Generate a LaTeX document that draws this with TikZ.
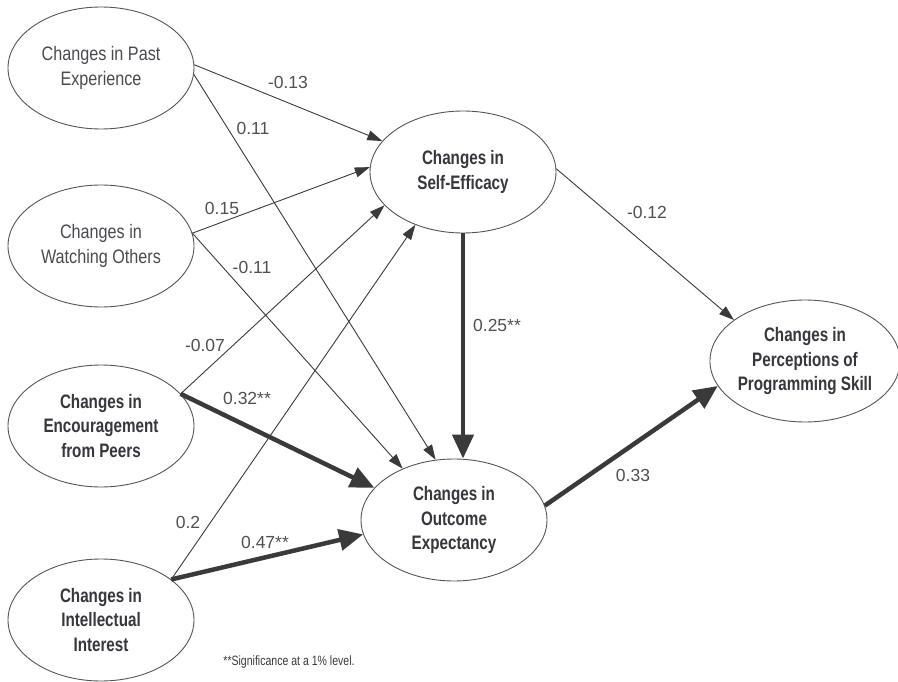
\documentclass[tikz,border=0pt]{standalone}
\usepackage{fontspec}
\usetikzlibrary{arrows.meta,shapes.geometric}
\newfontfamily\lblfont{Liberation Sans}
\newfontfamily\ndfont[FakeStretch=0.83]{Liberation Sans}
\newfontfamily\ndbfont[FakeStretch=0.78]{Liberation Sans}
\newfontfamily\notefont[FakeStretch=0.78]{Liberation Sans}
\definecolor{ink}{HTML}{3A3A3A}
\definecolor{regink}{HTML}{4A4A50}
\definecolor{boldink}{HTML}{36363C}
\definecolor{edgegray}{HTML}{555555}
\definecolor{coefgray}{HTML}{505050}
\begin{document}
\begin{tikzpicture}[x=1pt,y=-1pt,
 latent/.style={ellipse, draw=edgegray, line width=0.9pt, minimum width=186pt, minimum height=122pt, inner sep=0pt, align=center},
 regtxt/.style={font=\ndfont\fontsize{19.5}{24.3}\selectfont, text=regink},
 boldtxt/.style={font=\ndbfont\bfseries\fontsize{19.5}{24.3}\selectfont, text=boldink},
 weakpath/.style={draw=ink, line width=0.9pt, -{Triangle[length=15pt,width=10pt]}},
 strongpath/.style={draw=ink, line width=4.5pt, -{Triangle[length=24pt,width=21pt]}},
 coef/.style={font=\lblfont\fontsize{17.5}{20}\selectfont, text=coefgray, inner sep=0pt},
 notetxt/.style={font=\notefont\fontsize{13.5}{15}\selectfont, text=ink, inner sep=0pt}
]
\fill[white] (0,0) rectangle (898,682);
\useasboundingbox (0,0) rectangle (898,682);

\node[latent,regtxt] (pe) at (101,68) {Changes in Past\\Experience};
\node[latent,regtxt] (wo) at (101,246) {Changes in\\Watching Others};
\node[latent,boldtxt] (ep) at (101,426) {Changes in\\Encouragement\\from Peers};
\node[latent,boldtxt] (ii) at (101,620) {Changes in\\Intellectual\\Interest};
\node[latent,boldtxt] (se) at (463,172) {Changes in\\Self-Efficacy};
\node[latent,boldtxt] (oe) at (454,520) {Changes in\\Outcome\\Expectancy};
\node[latent,boldtxt] (pp) at (805,361) {Changes in\\Perceptions of\\Programming Skill};

\draw[weakpath] (pe.2) -- (se.159);
\draw[weakpath] (pe.-4) -- (oe.107);
\draw[weakpath] (wo.8) -- (se.177);
\draw[weakpath] (wo.8) -- (oe.135);
\draw[weakpath] (ep.22) -- (se.203);
\draw[strongpath] (ep.22) -- (oe.158);
\draw[weakpath] (ii.30) -- (se.228);
\draw[strongpath] (ii.30) -- (oe.189);
\draw[strongpath] (se.south) -- (se.south |- oe.north);
\draw[weakpath] (se.2) -- (pp.150);
\draw[strongpath] (oe.9) -- (pp.196);

\node[coef] (c1) at (288,82) {-0.13};
\node[coef] (c2) at (253,128) {0.11};
\node[coef] (c3) at (222,208) {0.15};
\node[coef] (c4) at (252,267) {-0.11};
\node[coef] (c5) at (205,345) {-0.07};
\node[coef] (c6) at (247,398) {0.32**};
\node[coef] (c7) at (188,522) {0.2};
\node[coef] (c8) at (265,542) {0.47**};
\node[coef] (c9) at (497,325) {0.25**};
\node[coef] (c10) at (647,212) {-0.12};
\node[coef] (c11) at (633,475) {0.33};

\node[notetxt] (note) at (289,662) {**Significance at a 1\% level.};
\end{tikzpicture}
\end{document}
